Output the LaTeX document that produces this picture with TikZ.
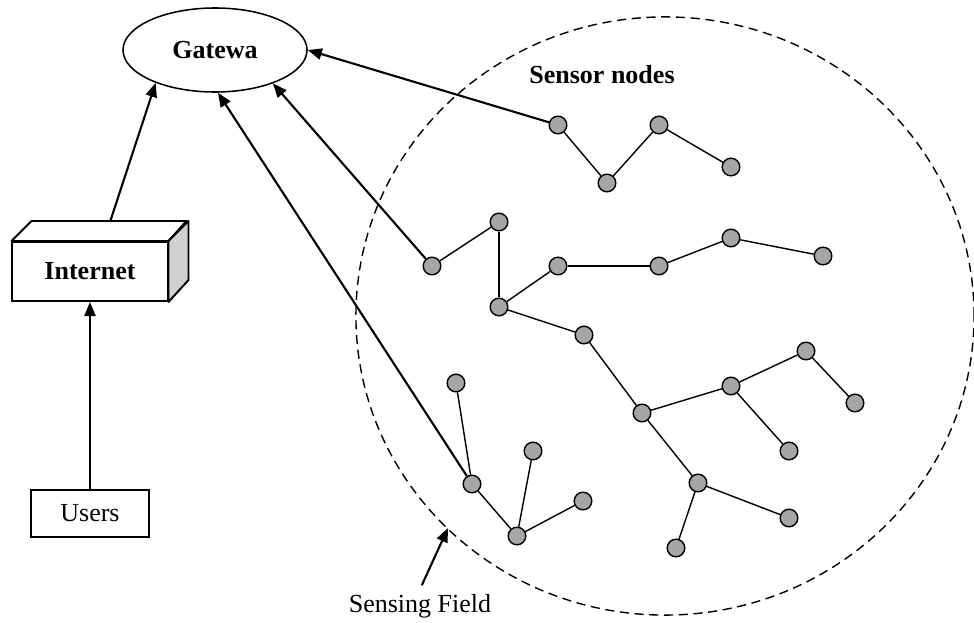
\documentclass[tikz,border=0pt]{standalone}
\usepackage{fontspec}
\setmainfont{Liberation Serif}
\usetikzlibrary{arrows.meta,shapes.geometric}
\definecolor{nodegray}{HTML}{A6A6A6}
\definecolor{sidegray}{HTML}{D0D0D0}

\begin{document}
\begin{tikzpicture}[x=0.025cm,y=-0.025cm,
  font=\fontsize{18.5}{22}\selectfont,
  snode/.style={circle,draw,fill=nodegray,line width=1pt,minimum size=0.44cm,inner sep=0pt},
  link/.style={line width=1pt},
  arr/.style={line width=1.5pt,-{Triangle[length=10pt,width=8pt]}},
  field/.style={dash pattern=on 6.5pt off 4pt,line width=1pt}
]
\useasboundingbox (0,0) rectangle (974,623);

% sensing field
\draw[field] (665,316) ellipse (7.725cm and 7.475cm);
\node (snlbl) at (602,75) {\textbf{Sensor nodes}};
\node (sflbl) at (420,606) {Sensing Field};
\coordinate (fieldmark) at (448,528);
\draw[arr,shorten <=3pt] (sflbl.north) -- (fieldmark);

% gateway, internet, users
\node[ellipse,draw,line width=1.1pt,minimum width=4.6cm,minimum height=2.1cm,inner sep=0pt] (gw) at (215,50) {\textbf{Gatewa}};
\node[draw,line width=1.4pt,minimum width=3.875cm,minimum height=1.475cm,inner sep=0pt] (inet) at (90,271.5) {\textbf{Internet}};
\draw[line width=1.4pt,line join=round] (inet.north west) -- ++(20,-20) -- ++(155,0) -- (inet.north east) -- cycle;
\filldraw[fill=sidegray,line width=1.4pt,line join=round] (inet.north east) -- ++(20,-20) -- ++(0,59) -- (inet.south east) -- cycle;
\coordinate (inettop) at (110,222);
\node[draw,line width=0.9pt,minimum width=2.95cm,minimum height=1.175cm,inner sep=0pt] (users) at (90,513.5) {Users};

\draw[arr,line width=1.2pt] (users) -- (inet);
\draw[arr] (inettop) -- (gw.209);

% sensor nodes
\foreach \n/\x/\y in {a1/558/125, a2/607/183, a3/659/125, a4/731/167,
    b1/432/266, b2/499/222, b3/499/307, b4/558/266, b5/659/266, b6/731/238, b7/823/256,
    c1/584/335, c2/642/413, c3/731/386, c4/806/351, c5/855/403, c6/789/451,
    d1/698/483, d2/789/518, d3/676/548,
    f0/456/383, f1/472/484, f2/517/536, f3/533/451, f4/583/501}
  \node[snode] (\n) at (\x,\y) {};

\foreach \u/\v in {a1/a2, a2/a3, a3/a4,
    b1/b2, b2/b3, b3/b4, b4/b5, b5/b6, b6/b7,
    b3/c1, c1/c2, c2/c3, c3/c4, c4/c5, c3/c6,
    c2/d1, d1/d2, d1/d3,
    f1/f0, f1/f2, f2/f3, f2/f4}
  \draw[link] (\u) -- (\v);

% paths to the gateway
\draw[arr] (a1) -- (gw.east);
\draw[arr] (b1) -- (gw.-30);
\draw[arr] (f1) -- (gw.-86);
\end{tikzpicture}
\end{document}
